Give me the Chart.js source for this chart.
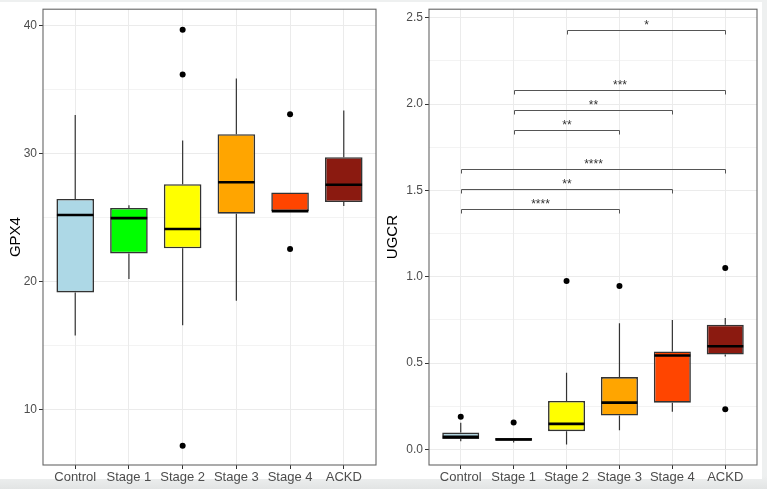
<!DOCTYPE html>
<html>
<head>
<meta charset="utf-8">
<script src="https://cdn.jsdelivr.net/npm/chart.js@4"></script>
<style>
  html, body { margin: 0; padding: 0; }
  body {
    width: 767px; height: 489px; position: relative; overflow: hidden;
    background: linear-gradient(#eef0f0 0, #eef0f0 476px, #e2e4e4 489px);
    font-family: "Liberation Sans", Arial, sans-serif;
  }
  #sheet { position: absolute; left: 0; top: 2px; width: 762px; height: 477px; background: #fff; }
  canvas { position: absolute; top: 0; }
  #gpx { left: 0; }
  #ugcr { left: 380px; }
</style>
</head>
<body>
<div id="sheet"></div>
<canvas id="gpx" width="380" height="489"></canvas>
<canvas id="ugcr" width="387" height="489"></canvas>
<script>
// ---------------------------------------------------------------------------
// Data
// ---------------------------------------------------------------------------

var categories = ['Control', 'Stage 1', 'Stage 2', 'Stage 3', 'Stage 4', 'ACKD'];
var boxColors = ['#add8e6', '#00ff00', '#ffff00', '#ffa500', '#ff4500', '#8b1a10'];

// GPX4 panel
var gpxLow = [15.8, 20.2, 16.6, 18.5, 25.5, 25.9];
var gpxQ1 = [19.15, 22.2, 22.6, 25.3, 25.5, 26.2];
var gpxMedian = [25.2, 24.95, 24.1, 27.75, 25.5, 27.55];
var gpxQ3 = [26.45, 25.75, 27.6, 31.5, 26.95, 29.7];
var gpxHigh = [33.0, 25.95, 31.0, 35.85, 26.95, 33.35];
var gpxOutlierCat = [2, 2, 2, 4, 4];
var gpxOutlierVal = [39.65, 36.15, 7.2, 33.05, 22.55];
var gpxMajorTicks = [10, 20, 30, 40];
var gpxMinorTicks = [15, 25, 35];

// UGCR panel
var ugLow = [0.048, 0.04, 0.029, 0.111, 0.219, 0.539];
var ugQ1 = [0.06, 0.05, 0.106, 0.196, 0.271, 0.55];
var ugMedian = [0.073, 0.058, 0.148, 0.271, 0.544, 0.598];
var ugQ3 = [0.098, 0.067, 0.281, 0.419, 0.568, 0.723];
var ugHigh = [0.154, 0.067, 0.445, 0.731, 0.75, 0.762];
var ugOutlierCat = [0, 1, 2, 3, 5, 5];
var ugOutlierVal = [0.19, 0.156, 0.976, 0.947, 1.051, 0.233];
var ugMajorTicks = [0, 0.5, 1.0, 1.5, 2.0, 2.5];
var ugMinorTicks = [0.25, 0.75, 1.25, 1.75, 2.25];

// significance brackets: from category, to category, height, label
var bracketFrom = [2, 1, 1, 1, 0, 0, 0];
var bracketTo = [5, 5, 4, 3, 5, 4, 3];
var bracketY = [2.43, 2.084, 1.969, 1.853, 1.622, 1.507, 1.391];
var bracketLabel = ['*', '***', '**', '**', '****', '**', '****'];

// ---------------------------------------------------------------------------
// Helpers
// ---------------------------------------------------------------------------

var FONT = '"Liberation Sans", Arial, sans-serif';

// whiskers, medians and the full panel border
var boxPlugin = {
  id: 'boxExtras',
  afterDatasetsDraw: function (chart, args, opts) {
    var ctx = chart.ctx;
    var ys = chart.scales.y;
    var bars = chart.getDatasetMeta(0).data;
    ctx.save();
    bars.forEach(function (bar, i) {
      var x = bar.x;
      var half = bar.width / 2;
      ctx.strokeStyle = '#333';
      ctx.lineWidth = 1.2;
      ctx.beginPath();
      ctx.moveTo(x, ys.getPixelForValue(opts.q3[i]));
      ctx.lineTo(x, ys.getPixelForValue(opts.high[i]));
      ctx.moveTo(x, ys.getPixelForValue(opts.q1[i]));
      ctx.lineTo(x, ys.getPixelForValue(opts.low[i]));
      ctx.stroke();
      ctx.strokeStyle = '#000';
      ctx.lineWidth = 2.6;
      var my = ys.getPixelForValue(opts.median[i]);
      ctx.beginPath();
      ctx.moveTo(x - half + 0.5, my);
      ctx.lineTo(x + half - 0.5, my);
      ctx.stroke();
    });
    ctx.restore();
  },
  afterDraw: function (chart) {
    var a = chart.chartArea;
    var ctx = chart.ctx;
    ctx.save();
    ctx.strokeStyle = '#666';
    ctx.lineWidth = 1.1;
    ctx.strokeRect(a.left, a.top, a.right - a.left, a.bottom - a.top);
    ctx.restore();
  }
};

var bracketPlugin = {
  id: 'brackets',
  afterDatasetsDraw: function (chart) {
    var ctx = chart.ctx;
    var xs = chart.scales.x;
    var ys = chart.scales.y;
    ctx.save();
    ctx.strokeStyle = '#555';
    ctx.lineWidth = 1;
    ctx.fillStyle = '#333';
    ctx.font = '12px ' + FONT;
    ctx.textAlign = 'center';
    ctx.textBaseline = 'middle';
    bracketY.forEach(function (v, i) {
      var x1 = Math.round(xs.getPixelForValue(bracketFrom[i])) + 0.5;
      var x2 = Math.round(xs.getPixelForValue(bracketTo[i])) + 0.5;
      var y = Math.round(ys.getPixelForValue(v)) + 0.5;
      ctx.beginPath();
      ctx.moveTo(x1, y + 4);
      ctx.lineTo(x1, y);
      ctx.lineTo(x2, y);
      ctx.lineTo(x2, y + 4);
      ctx.stroke();
      ctx.fillText(bracketLabel[i], (x1 + x2) / 2, y - 5);
    });
    ctx.restore();
  }
};

function makeBoxChart(canvasId, cfg) {
  var boxes = categories.map(function (c, i) {
    return { x: i, y: [cfg.q1[i], cfg.q3[i]] };
  });
  var outliers = cfg.outCat.map(function (c, i) {
    return { x: c, y: cfg.outVal[i] };
  });
  var allTicks = cfg.major.concat(cfg.minor).sort(function (a, b) { return a - b; });
  var isMajor = function (v) { return cfg.major.indexOf(v) !== -1; };

  return new Chart(document.getElementById(canvasId), {
    type: 'bar',
    data: {
      datasets: [
        {
          data: boxes,
          backgroundColor: boxColors,
          borderColor: '#333',
          borderWidth: 1.6,
          borderSkipped: false,
          barPercentage: 0.7,
          categoryPercentage: 1.0,
          order: 2
        },
        {
          type: 'scatter',
          data: outliers,
          pointRadius: 3,
          pointBackgroundColor: '#000',
          pointBorderWidth: 0,
          order: 1
        }
      ]
    },
    options: {
      responsive: false,
      animation: false,
      devicePixelRatio: 1,
      layout: { padding: cfg.padding },
      plugins: {
        legend: { display: false },
        tooltip: { enabled: false },
        boxExtras: { low: cfg.low, q1: cfg.q1, median: cfg.median, q3: cfg.q3, high: cfg.high }
      },
      scales: {
        x: {
          type: 'linear',
          min: -0.6,
          max: 5.6,
          offset: false,
          afterBuildTicks: function (scale) {
            scale.ticks = categories.map(function (c, i) { return { value: i }; });
          },
          afterFit: function (scale) { scale.height = 24; },
          grid: { offset: false, color: '#ebebeb', lineWidth: 1, tickLength: 4, tickColor: '#333' },
          border: { display: false },
          ticks: {
            autoSkip: false,
            maxRotation: 0,
            padding: 1,
            color: '#4d4d4d',
            font: { family: FONT, size: 13 },
            callback: function (v) { return categories[v]; }
          }
        },
        y: {
          min: cfg.min,
          max: cfg.max,
          afterBuildTicks: function (scale) {
            scale.ticks = allTicks.map(function (v) { return { value: v }; });
          },
          afterFit: function (scale) { scale.width = cfg.axisWidth; },
          grid: {
            color: '#ebebeb',
            lineWidth: function (c) { return isMajor(c.tick.value) ? 1 : 0.6; },
            tickLength: 4,
            tickColor: function (c) { return isMajor(c.tick.value) ? '#333' : 'rgba(0,0,0,0)'; }
          },
          border: { display: false },
          title: {
            display: true,
            text: cfg.title,
            color: '#000',
            font: { family: FONT, size: 15 },
            padding: { top: cfg.titlePad, bottom: 0 }
          },
          ticks: {
            padding: 2,
            color: '#4d4d4d',
            font: { family: FONT, size: 12 },
            callback: function (v) { return isMajor(v) ? cfg.fmt(v) : ''; }
          }
        }
      }
    },
    plugins: [boxPlugin].concat(cfg.extraPlugins || [])
  });
}

// ---------------------------------------------------------------------------
// Panels
// ---------------------------------------------------------------------------

makeBoxChart('gpx', {
  low: gpxLow, q1: gpxQ1, median: gpxMedian, q3: gpxQ3, high: gpxHigh,
  outCat: gpxOutlierCat, outVal: gpxOutlierVal,
  major: gpxMajorTicks, minor: gpxMinorTicks,
  min: 5.69, max: 41.25,
  title: 'GPX4', titlePad: 7, axisWidth: 43,
  padding: { top: 8, right: 4, bottom: 0, left: 0 },
  fmt: function (v) { return String(v); }
});

makeBoxChart('ugcr', {
  low: ugLow, q1: ugQ1, median: ugMedian, q3: ugQ3, high: ugHigh,
  outCat: ugOutlierCat, outVal: ugOutlierVal,
  major: ugMajorTicks, minor: ugMinorTicks,
  min: -0.09, max: 2.55,
  title: 'UGCR', titlePad: 4, axisWidth: 49,
  padding: { top: 8, right: 10, bottom: 0, left: 0 },
  fmt: function (v) { return v.toFixed(1); },
  extraPlugins: [bracketPlugin]
});
</script>
</body>
</html>
